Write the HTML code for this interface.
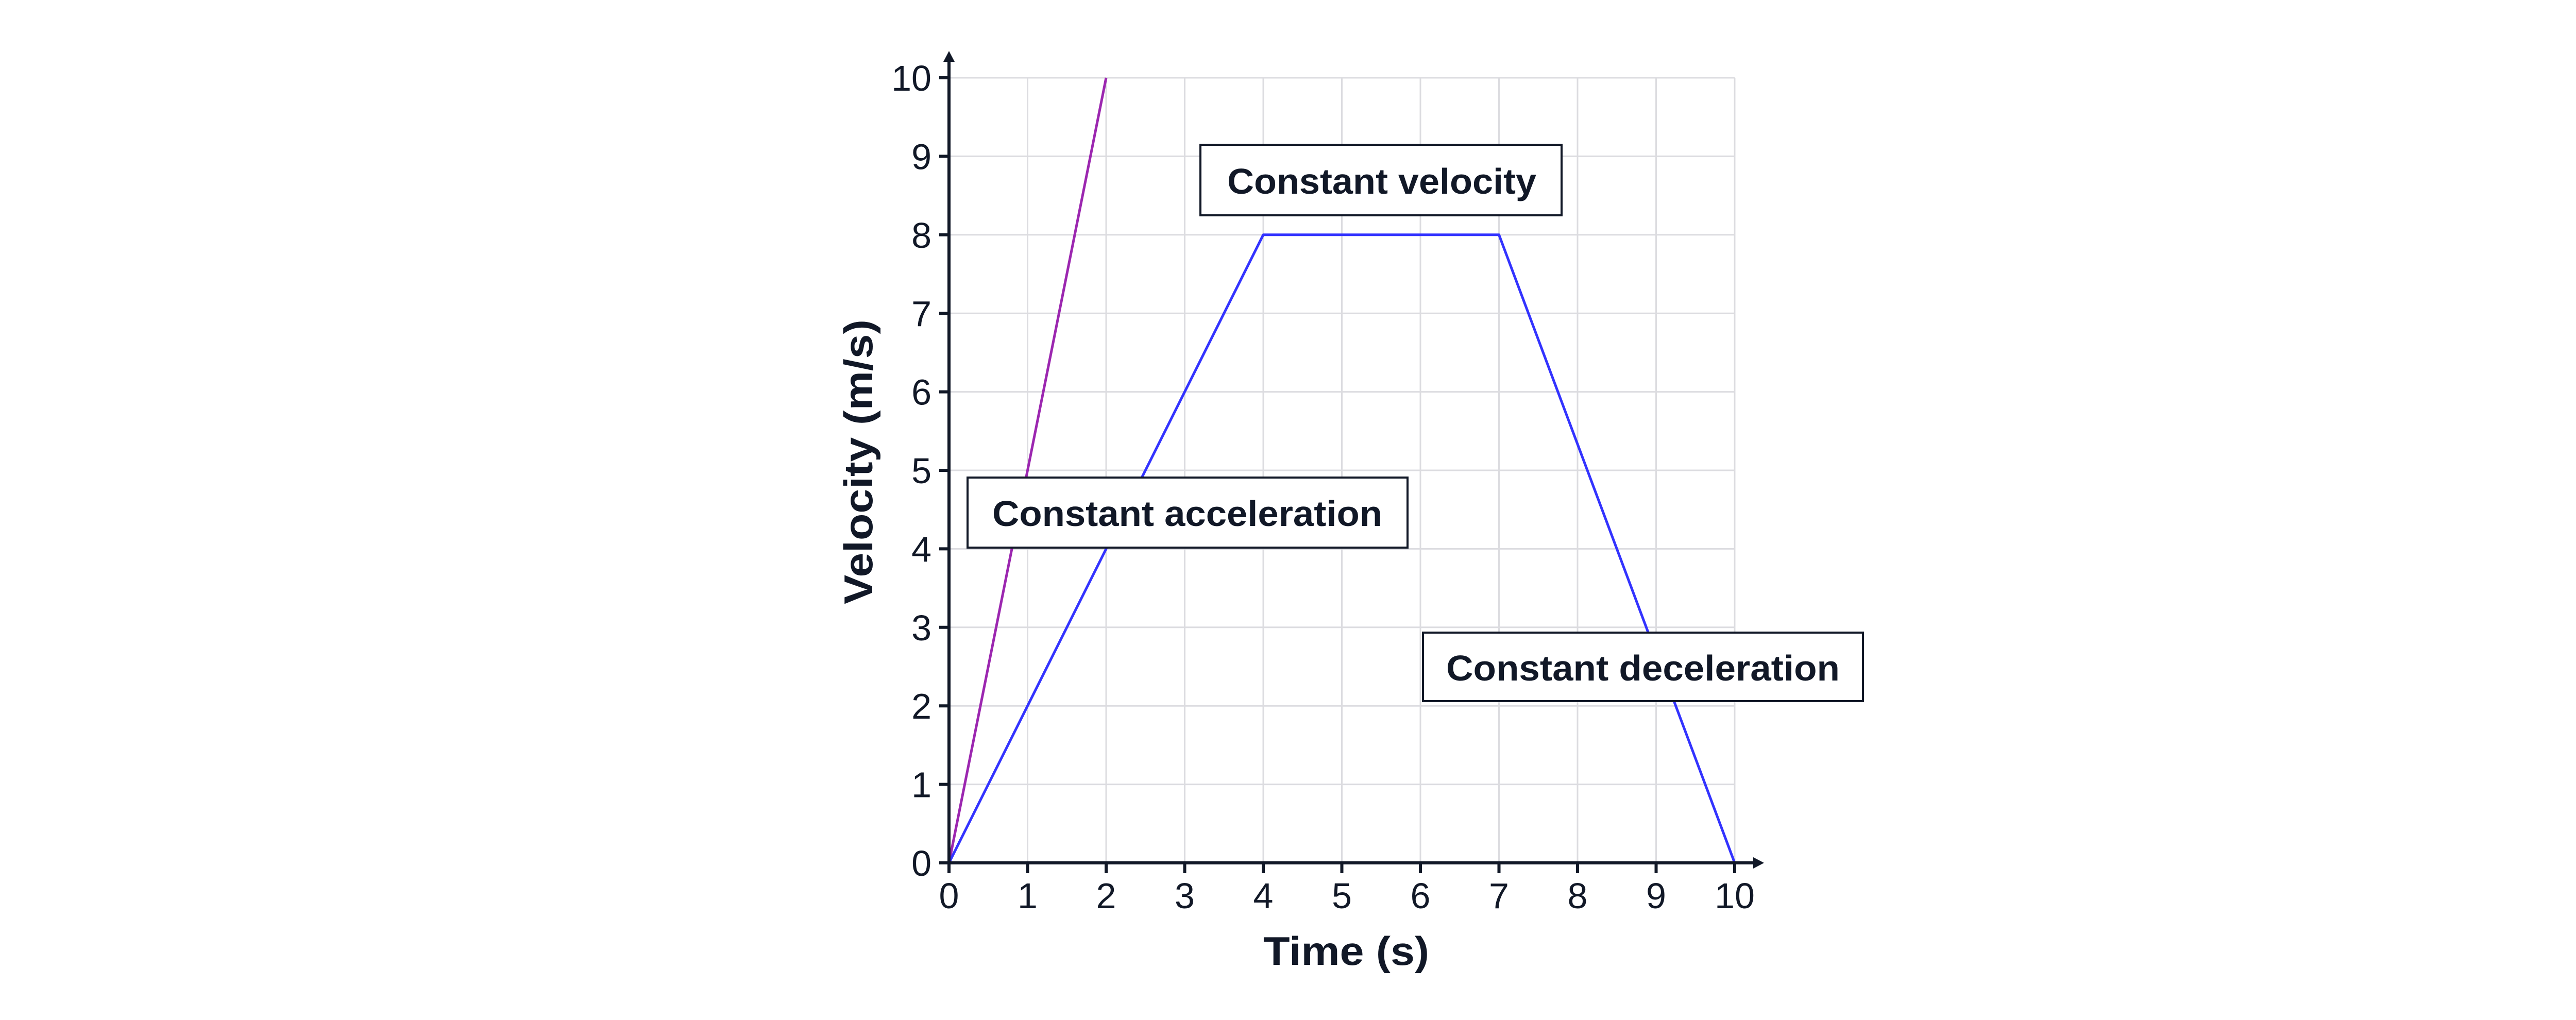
<!DOCTYPE html>
<html><head><meta charset="utf-8"><style>html,body{margin:0;padding:0;background:#fff;width:5254px;height:1980px;overflow:hidden}svg{display:block;position:absolute;left:0;top:0}</style></head>
<body>
<svg xmlns="http://www.w3.org/2000/svg" width="5254" height="1980" viewBox="0 0 5254 1980">
<rect width="5254" height="1980" fill="#fff"/>
<g stroke="#dcdce0" stroke-width="3">
<line x1="1994.5" y1="151" x2="1994.5" y2="1675"/><line x1="2147" y1="151" x2="2147" y2="1675"/>
<line x1="2299.5" y1="151" x2="2299.5" y2="1675"/><line x1="2452" y1="151" x2="2452" y2="1675"/>
<line x1="2604.5" y1="151" x2="2604.5" y2="1675"/><line x1="2757" y1="151" x2="2757" y2="1675"/>
<line x1="2909.5" y1="151" x2="2909.5" y2="1675"/><line x1="3062" y1="151" x2="3062" y2="1675"/>
<line x1="3214.5" y1="151" x2="3214.5" y2="1675"/><line x1="3367" y1="151" x2="3367" y2="1675"/>
<line x1="1842" y1="151" x2="3367" y2="151"/><line x1="1842" y1="303.4" x2="3367" y2="303.4"/>
<line x1="1842" y1="455.8" x2="3367" y2="455.8"/><line x1="1842" y1="608.2" x2="3367" y2="608.2"/>
<line x1="1842" y1="760.6" x2="3367" y2="760.6"/><line x1="1842" y1="913" x2="3367" y2="913"/>
<line x1="1842" y1="1065.4" x2="3367" y2="1065.4"/><line x1="1842" y1="1217.8" x2="3367" y2="1217.8"/>
<line x1="1842" y1="1370.2" x2="3367" y2="1370.2"/><line x1="1842" y1="1522.6" x2="3367" y2="1522.6"/>
</g>
<polyline points="1842,1675 2147,151" fill="none" stroke="#9c27b0" stroke-width="5"/>
<polyline points="1842,1675 2452,455.8 2909.5,455.8 3367,1675" fill="none" stroke="#3333ff" stroke-width="5" stroke-linejoin="round"/>
<g stroke="#111827" stroke-width="6">
<line x1="1842" y1="1678" x2="1842" y2="112"/>
<line x1="1823" y1="1675" x2="3408" y2="1675"/>
<line x1="1842" y1="1675" x2="1842" y2="1695"/><line x1="1994.5" y1="1675" x2="1994.5" y2="1695"/>
<line x1="2147" y1="1675" x2="2147" y2="1695"/><line x1="2299.5" y1="1675" x2="2299.5" y2="1695"/>
<line x1="2452" y1="1675" x2="2452" y2="1695"/><line x1="2604.5" y1="1675" x2="2604.5" y2="1695"/>
<line x1="2757" y1="1675" x2="2757" y2="1695"/><line x1="2909.5" y1="1675" x2="2909.5" y2="1695"/>
<line x1="3062" y1="1675" x2="3062" y2="1695"/><line x1="3214.5" y1="1675" x2="3214.5" y2="1695"/>
<line x1="3367" y1="1675" x2="3367" y2="1695"/>
<line x1="1823" y1="151" x2="1842" y2="151"/><line x1="1823" y1="303.4" x2="1842" y2="303.4"/>
<line x1="1823" y1="455.8" x2="1842" y2="455.8"/><line x1="1823" y1="608.2" x2="1842" y2="608.2"/>
<line x1="1823" y1="760.6" x2="1842" y2="760.6"/><line x1="1823" y1="913" x2="1842" y2="913"/>
<line x1="1823" y1="1065.4" x2="1842" y2="1065.4"/><line x1="1823" y1="1217.8" x2="1842" y2="1217.8"/>
<line x1="1823" y1="1370.2" x2="1842" y2="1370.2"/><line x1="1823" y1="1522.6" x2="1842" y2="1522.6"/>
</g>
<polygon points="1842,99 1831,120 1853,120" fill="#111827"/>
<polygon points="3424,1675 3403,1664 3403,1686" fill="#111827"/>
<g font-family="Liberation Sans, sans-serif" font-size="70" fill="#111827" text-anchor="middle">
<text x="1842" y="1763">0</text><text x="1994.5" y="1763">1</text><text x="2147" y="1763">2</text>
<text x="2299.5" y="1763">3</text><text x="2452" y="1763">4</text><text x="2604.5" y="1763">5</text>
<text x="2757" y="1763">6</text><text x="2909.5" y="1763">7</text><text x="3062" y="1763">8</text>
<text x="3214.5" y="1763">9</text><text x="3367" y="1763">10</text>
</g>
<g font-family="Liberation Sans, sans-serif" font-size="70" fill="#111827" text-anchor="end">
<text x="1808" y="1700">0</text><text x="1808" y="1547.6">1</text><text x="1808" y="1395.2">2</text>
<text x="1808" y="1242.8">3</text><text x="1808" y="1090.4">4</text><text x="1808" y="938">5</text>
<text x="1808" y="785.6">6</text><text x="1808" y="633.2">7</text><text x="1808" y="480.8">8</text>
<text x="1808" y="328.4">9</text><text x="1808" y="176">10</text>
</g>
<g font-family="Liberation Sans, sans-serif" font-weight="bold" fill="#111827">
<text x="2452" y="1873" font-size="78" textLength="322" lengthAdjust="spacingAndGlyphs">Time (s)</text>
<text transform="translate(1693,1173) rotate(-90)" font-size="78" textLength="553" lengthAdjust="spacingAndGlyphs">Velocity (m/s)</text>
</g>
<g fill="#fff" stroke="#111827" stroke-width="4">
<rect x="2330" y="281" width="701" height="137"/>
<rect x="1878" y="927" width="854" height="136"/>
<rect x="2762" y="1228" width="854" height="133"/>
</g>
<g font-family="Liberation Sans, sans-serif" font-weight="bold" font-size="70" fill="#111827">
<text x="2382" y="376" textLength="600" lengthAdjust="spacingAndGlyphs">Constant velocity</text>
<text x="1926" y="1021" textLength="757" lengthAdjust="spacingAndGlyphs">Constant acceleration</text>
<text x="2807" y="1321" textLength="764" lengthAdjust="spacingAndGlyphs">Constant deceleration</text>
</g>
</svg>
</body></html>
